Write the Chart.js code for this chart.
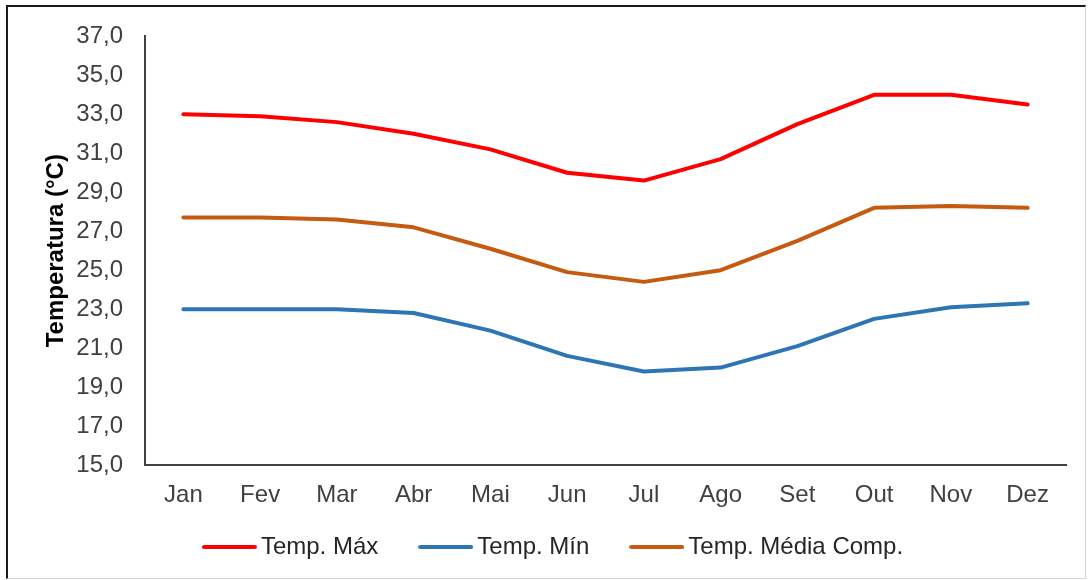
<!DOCTYPE html>
<html lang="pt">
<head>
<meta charset="utf-8">
<title>Temperatura mensal</title>
<script src="https://cdn.jsdelivr.net/npm/chart.js@4/dist/chart.umd.min.js"></script>
<style>
    html, body { margin: 0; padding: 0; background: #fff; }
    #frame {
        position: absolute; left: 6px; top: 5px;
        width: 1077px; height: 571px;
        border-left: 2px solid #1a1a1a; border-top: 2px solid #1a1a1a;
        border-right: 1px solid #d4d4d4; border-bottom: 1px solid #d4d4d4;
    }
    #wrap { position: absolute; left: 0; top: 0; width: 1091px; height: 580px; }
</style>
</head>
<body>
<div id="frame"></div>
<div id="wrap"><canvas id="chart"></canvas></div>
<script>
// Monthly temperatures (°C)
const months = ['Jan', 'Fev', 'Mar', 'Abr', 'Mai', 'Jun', 'Jul', 'Ago', 'Set', 'Out', 'Nov', 'Dez'];
const tempMax = [33.0, 32.9, 32.6, 32.0, 31.2, 30.0, 29.6, 30.7, 32.5, 34.0, 34.0, 33.5];
const tempMin = [23.0, 23.0, 23.0, 22.8, 21.9, 20.6, 19.8, 20.0, 21.1, 22.5, 23.1, 23.3];
const tempMedia = [27.7, 27.7, 27.6, 27.2, 26.1, 24.9, 24.4, 25.0, 26.5, 28.2, 28.3, 28.2];

const yMin = 15;
const yMax = 37;
const yStep = 2;

const FONT = '"Liberation Sans", Arial, sans-serif';
const FONT_SIZE = 24;
const AXIS_COLOR = '#404040';
const TEXT_COLOR = '#404040';

const PAD_LEFT = 47;
const PAD_RIGHT = 25;
const PLOT_LEFT = 145;

// Legend swatch: a short thick line, drawn on a small canvas so it can sit
// closer to its label than the built-in 'line' style allows
function swatch(color) {
    const c = document.createElement('canvas');
    c.width = 55;
    c.height = 6;
    const g = c.getContext('2d');
    g.strokeStyle = color;
    g.lineWidth = 4;
    g.lineCap = 'round';
    g.beginPath();
    g.moveTo(2, 3);
    g.lineTo(53, 3);
    g.stroke();
    return c;
}

function series(label, data, color) {
    return {
        label: label,
        data: data,
        borderColor: color,
        backgroundColor: color,
        borderWidth: 4,
        borderCapStyle: 'round',
        borderJoinStyle: 'round',
        pointStyle: swatch(color),
        pointRadius: 0,
        pointHoverRadius: 0,
        tension: 0,
        fill: false
    };
}

// The month labels hang below a short axis box, so let them draw unclipped
const freeXLabels = {
    id: 'freeXLabels',
    beforeDraw(chart) {
        chart.scales.x._computeLabelArea = () => undefined;
    }
};

new Chart(document.getElementById('chart').getContext('2d'), {
    type: 'line',
    data: {
        labels: months,
        datasets: [
            series('Temp. Máx', tempMax, '#ff0000'),
            series('Temp. Mín', tempMin, '#2e75b6'),
            series('Temp. Média Comp.', tempMedia, '#c55a11')
        ]
    },
    plugins: [freeXLabels],
    options: {
        responsive: true,
        maintainAspectRatio: false,
        animation: false,
        layout: {
            padding: { left: PAD_LEFT, right: PAD_RIGHT, top: 35, bottom: 11 }
        },
        plugins: {
            tooltip: { enabled: false },
            legend: {
                position: 'bottom',
                labels: {
                    usePointStyle: true,
                    pointStyleWidth: 39,
                    padding: 48,
                    color: '#262626',
                    font: { family: FONT, size: FONT_SIZE }
                }
            }
        },
        scales: {
            x: {
                offset: true,
                grid: { display: false, drawTicks: false },
                border: { display: true, color: AXIS_COLOR, width: 2 },
                ticks: {
                    padding: 16,
                    color: TEXT_COLOR,
                    font: { family: FONT, size: FONT_SIZE },
                    maxRotation: 0
                },
                afterFit: (scale) => { scale.height = 22; }
            },
            y: {
                min: yMin,
                max: yMax,
                grid: { display: false, drawTicks: false },
                border: { display: true, color: AXIS_COLOR, width: 2 },
                ticks: {
                    stepSize: yStep,
                    padding: 22,
                    color: TEXT_COLOR,
                    font: { family: FONT, size: FONT_SIZE },
                    callback: (v) => v.toFixed(1).replace('.', ',')
                },
                title: {
                    display: true,
                    text: 'Temperatura (°C)',
                    color: '#000',
                    padding: { top: -5, bottom: 0 },
                    font: { family: FONT, size: FONT_SIZE, weight: 'bold' }
                },
                afterFit: (scale) => { scale.width = PLOT_LEFT - PAD_LEFT; }
            }
        }
    }
});
</script>
</body>
</html>
